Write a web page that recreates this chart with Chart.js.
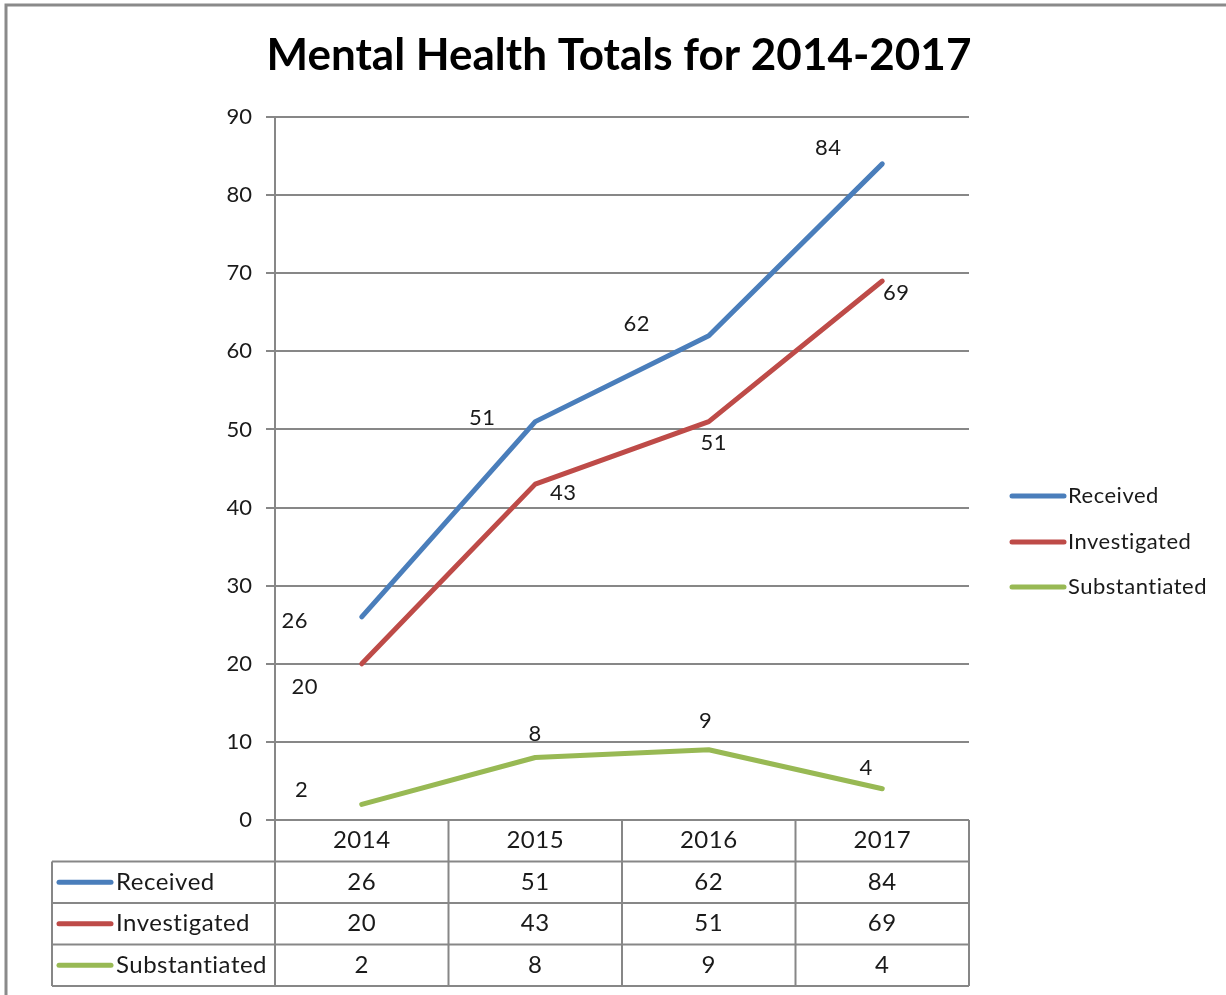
<!DOCTYPE html>
<html>
<head>
<meta charset="utf-8">
<title>Mental Health Totals for 2014-2017</title>
<script src="https://cdn.jsdelivr.net/npm/chart.js@4/dist/chart.umd.min.js"></script>
<style>
  html, body { margin: 0; padding: 0; background: #fff; }
  #wrap { position: relative; width: 1226px; height: 995px; }
</style>
</head>
<body>
<div id="wrap"><canvas id="chart" width="1226" height="995"></canvas></div>
<script>
// Chart data
const years = ['2014', '2015', '2016', '2017'];
const received = [26, 51, 62, 84];
const investigated = [20, 43, 51, 69];
const substantiated = [2, 8, 9, 4];
const seriesNames = ['Received', 'Investigated', 'Substantiated'];
const yTicks = [0, 10, 20, 30, 40, 50, 60, 70, 80, 90];

// Presentation
const colors = ['#4A7EBB', '#BE4B48', '#98B954'];
const FONT = 'Lato, "Open Sans", sans-serif';
const GRID = '#878787';
// value-label offsets from each point (px), per series
const labelOffsets = [
  [[-67, 4], [-53, -4], [-72, -12], [-54, -16]],
  [[-57, 23], [28, 9], [5, 21], [14, 12]],
  [[-60, -14], [0, -24], [-3, -29], [-16, -21]]
];

const seriesData = [received, investigated, substantiated];

const decorPlugin = {
  id: 'decor',
  beforeDraw(chart) {
    const ctx = chart.ctx;
    ctx.save();
    ctx.fillStyle = '#fff';
    ctx.fillRect(0, 0, chart.width, chart.height);
    // outer frame (top and left edges)
    ctx.strokeStyle = '#8a8a8a';
    ctx.lineWidth = 3;
    ctx.beginPath();
    ctx.moveTo(6, chart.height);
    ctx.lineTo(6, 5);
    ctx.lineTo(chart.width, 5);
    ctx.stroke();
    ctx.restore();
  },
  afterDraw(chart) {
    const ctx = chart.ctx;
    const x = chart.scales.x;
    const area = chart.chartArea;
    ctx.save();

    // title
    ctx.fillStyle = '#000';
    ctx.font = 'bold 44px ' + FONT;
    ctx.textAlign = 'center';
    ctx.textBaseline = 'middle';
    ctx.fillText('Mental Health Totals for 2014-2017', 619, 56);

    ctx.letterSpacing = '0.5px';

    // value labels
    ctx.font = '22px ' + FONT;
    ctx.fillStyle = '#1a1a1a';
    chart.data.datasets.forEach((ds, si) => {
      const meta = chart.getDatasetMeta(si);
      meta.data.forEach((pt, i) => {
        const off = labelOffsets[si][i];
        ctx.fillText(String(ds.data[i]), pt.x + off[0], pt.y + off[1]);
      });
    });

    // data table below the plot
    const rowH = 41.5;
    const top = area.bottom;
    const tableBottom = top + rowH * 4;
    const leftEdge = 52;
    const half = (x.getPixelForValue(1) - x.getPixelForValue(0)) / 2;
    const colEdges = [area.left];
    years.forEach((_, i) => colEdges.push(x.getPixelForValue(i) + half));

    ctx.strokeStyle = GRID;
    ctx.lineWidth = 2;
    ctx.beginPath();
    // horizontal rules
    ctx.moveTo(area.left, top);
    ctx.lineTo(area.right, top);
    for (let r = 1; r <= 4; r++) {
      const yy = top + rowH * r;
      ctx.moveTo(leftEdge, yy);
      ctx.lineTo(area.right, yy);
    }
    // vertical rules
    colEdges.forEach((cx) => {
      ctx.moveTo(cx, top);
      ctx.lineTo(cx, tableBottom);
    });
    ctx.moveTo(leftEdge, top + rowH);
    ctx.lineTo(leftEdge, tableBottom);
    ctx.stroke();

    ctx.fillStyle = '#1a1a1a';
    ctx.font = '24px ' + FONT;
    ctx.textAlign = 'center';
    years.forEach((yr, i) => {
      ctx.fillText(yr, x.getPixelForValue(i), top + rowH / 2);
    });
    seriesNames.forEach((name, si) => {
      const cy = top + rowH * (si + 1.5);
      ctx.strokeStyle = colors[si];
      ctx.lineWidth = 5;
      ctx.lineCap = 'round';
      ctx.beginPath();
      ctx.moveTo(59, cy);
      ctx.lineTo(111, cy);
      ctx.stroke();
      ctx.textAlign = 'left';
      ctx.fillStyle = '#1a1a1a';
      ctx.fillText(name, 116, cy);
      ctx.textAlign = 'center';
      seriesData[si].forEach((v, i) => {
        ctx.fillText(String(v), x.getPixelForValue(i), cy);
      });
    });

    // legend at the right
    const legendY = [496, 542, 587];
    ctx.font = '22px ' + FONT;
    seriesNames.forEach((name, si) => {
      ctx.strokeStyle = colors[si];
      ctx.lineWidth = 5;
      ctx.lineCap = 'round';
      ctx.beginPath();
      ctx.moveTo(1012, legendY[si]);
      ctx.lineTo(1064, legendY[si]);
      ctx.stroke();
      ctx.textAlign = 'left';
      ctx.fillStyle = '#1a1a1a';
      ctx.fillText(name, 1068, legendY[si]);
    });

    // y axis line runs down through the table
    ctx.strokeStyle = GRID;
    ctx.lineWidth = 2;
    ctx.lineCap = 'butt';
    ctx.beginPath();
    ctx.moveTo(area.left, area.top);
    ctx.lineTo(area.left, tableBottom);
    ctx.stroke();
    ctx.restore();
  }
};

new Chart(document.getElementById('chart'), {
  type: 'line',
  data: {
    labels: years,
    datasets: seriesNames.map((name, si) => ({
      label: name,
      data: seriesData[si],
      borderColor: colors[si],
      backgroundColor: colors[si],
      borderWidth: 5,
      borderCapStyle: 'round',
      borderJoinStyle: 'round',
      pointRadius: 0,
      pointHoverRadius: 0,
      tension: 0,
      fill: false
    }))
  },
  options: {
    responsive: false,
    animation: false,
    events: [],
    layout: { padding: { left: 0, right: 257, top: 117, bottom: 175 } },
    plugins: {
      legend: { display: false },
      title: { display: false },
      tooltip: { enabled: false }
    },
    scales: {
      x: {
        type: 'category',
        offset: true,
        display: false
      },
      y: {
        min: 0,
        max: 90,
        afterBuildTicks(scale) {
          scale.ticks = yTicks.map((v) => ({ value: v }));
        },
        afterFit(scale) { scale.width = 275; },
        grid: {
          color: GRID,
          lineWidth: 2,
          tickLength: 9,
          drawTicks: true
        },
        border: { display: true, color: GRID, width: 2 },
        ticks: {
          color: '#1a1a1a',
          font: { family: FONT, size: 22 },
          padding: 14
        }
      }
    }
  },
  plugins: [decorPlugin]
});
</script>
</body>
</html>
